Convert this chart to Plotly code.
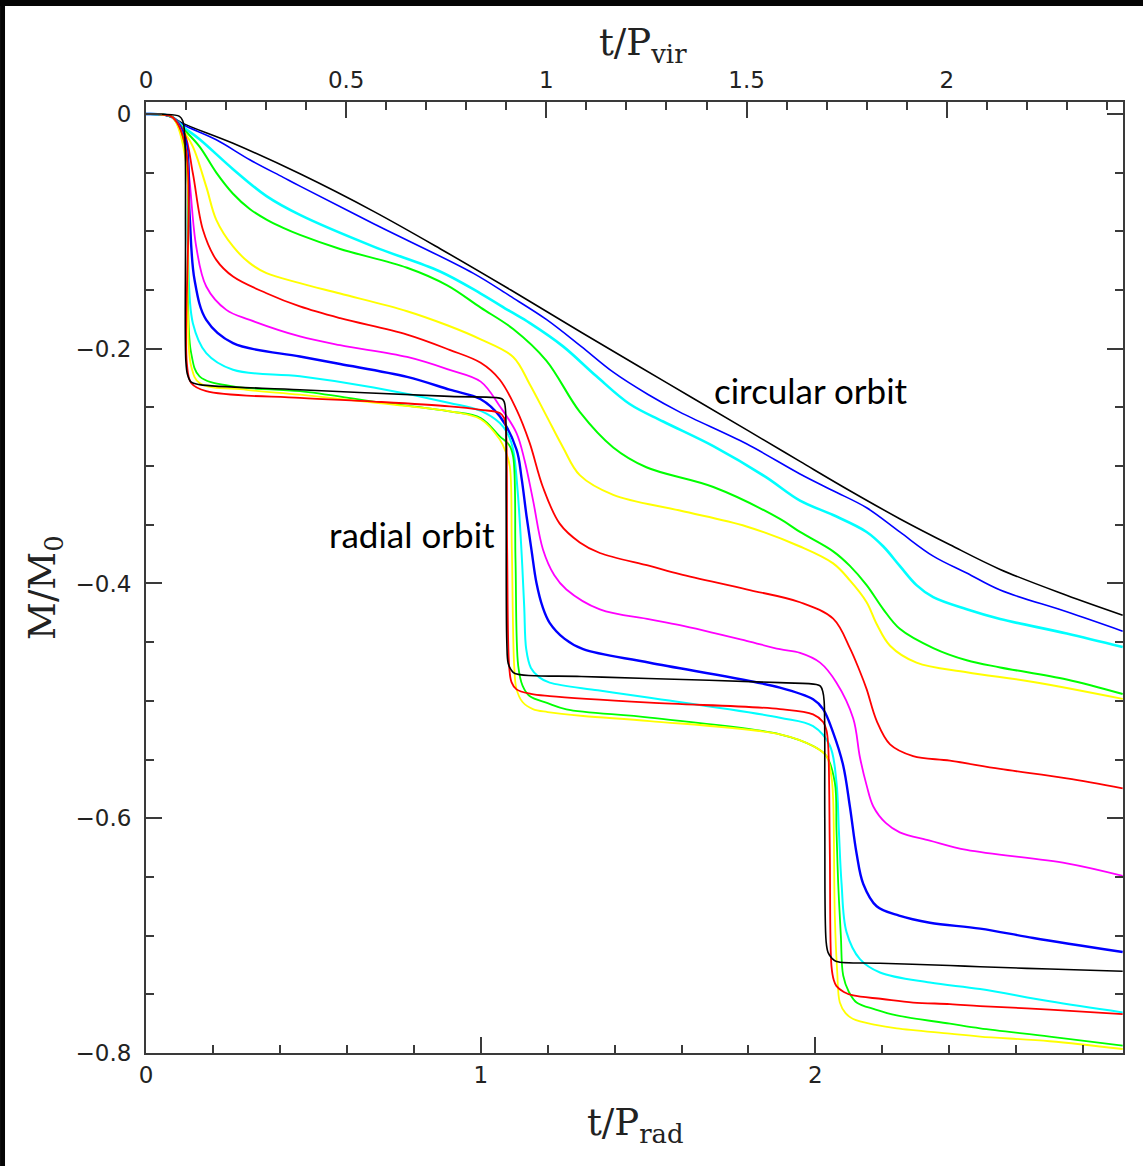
import plotly.graph_objects as go

# Bound mass fraction M/M0 versus time t/P_rad for a sequence of orbits,
# from the circular orbit (1) to the radial orbit (13).

t_1 = [0, 0.05, 0.08, 0.11, 0.26, 0.46, 0.68, 0.88, 1.09, 1.3, 1.55, 1.8, 1.954, 2.103, 2.253, 2.402, 2.552, 2.75, 2.918]
m_1 = [0, -0.0005, -0.003, -0.008, -0.025, -0.051, -0.083, -0.115, -0.150, -0.186, -0.228, -0.270, -0.296, -0.321, -0.345, -0.367, -0.388, -0.410, -0.427]

t_2 = [0, 0.05, 0.08, 0.11, 0.21, 0.31, 0.41, 0.46, 0.68, 0.977, 1.087, 1.196, 1.30, 1.396, 1.5, 1.595, 1.794, 1.954, 2.053, 2.153, 2.252, 2.352, 2.452, 2.552, 2.751, 2.918]
m_2 = [0, -0.0005, -0.003, -0.009, -0.022, -0.039, -0.054, -0.0615, -0.0935, -0.1356, -0.155, -0.175, -0.198, -0.220, -0.239, -0.254, -0.281, -0.3067, -0.321, -0.3355, -0.3561, -0.3767, -0.3911, -0.4056, -0.4241, -0.4406]

t_3 = [0, 0.05, 0.08, 0.11, 0.16, 0.26, 0.36, 0.46, 0.68, 0.877, 1.0, 1.087, 1.146, 1.246, 1.346, 1.445, 1.545, 1.695, 1.85, 1.954, 2.053, 2.153, 2.203, 2.252, 2.302, 2.352, 2.452, 2.552, 2.751, 2.918]
m_3 = [0, -0.0005, -0.003, -0.0108, -0.0215, -0.047, -0.070, -0.086, -0.113, -0.134, -0.153, -0.168, -0.178, -0.198, -0.2235, -0.2471, -0.262, -0.283, -0.309, -0.3294, -0.3417, -0.3561, -0.3685, -0.385, -0.4014, -0.4117, -0.422, -0.4303, -0.4426, -0.4542]

t_4 = [0, 0.05, 0.08, 0.11, 0.16, 0.21, 0.26, 0.31, 0.36, 0.41, 0.46, 0.58, 0.78, 0.9, 1.0, 1.097, 1.196, 1.296, 1.396, 1.495, 1.695, 1.894, 1.954, 2.053, 2.103, 2.153, 2.203, 2.252, 2.352, 2.452, 2.552, 2.751, 2.918]
m_4 = [0, -0.0005, -0.003, -0.0122, -0.0278, -0.050, -0.068, -0.081, -0.090, -0.097, -0.103, -0.115, -0.131, -0.146, -0.165, -0.1832, -0.2101, -0.2538, -0.2841, -0.301, -0.3178, -0.345, -0.3561, -0.3726, -0.385, -0.4014, -0.422, -0.4386, -0.455, -0.4654, -0.4715, -0.4818, -0.4942]

t_5 = [0, 0.05, 0.08, 0.11, 0.14, 0.18, 0.21, 0.26, 0.31, 0.36, 0.46, 0.58, 0.78, 0.9, 1.0, 1.097, 1.146, 1.196, 1.246, 1.296, 1.396, 1.595, 1.794, 1.954, 2.053, 2.103, 2.153, 2.183, 2.223, 2.302, 2.452, 2.651, 2.918]
m_5 = [0, -0.0005, -0.003, -0.0136, -0.0278, -0.0619, -0.0902, -0.1129, -0.1271, -0.1356, -0.1441, -0.153, -0.168, -0.18, -0.192, -0.207, -0.23, -0.257, -0.2841, -0.3077, -0.3245, -0.3379, -0.3514, -0.3685, -0.3829, -0.3973, -0.4159, -0.4345, -0.453, -0.4674, -0.4756, -0.4839, -0.4983]

t_6 = [0, 0.05, 0.08, 0.115, 0.14, 0.17, 0.21, 0.26, 0.36, 0.46, 0.58, 0.78, 0.907, 1.0, 1.057, 1.107, 1.146, 1.186, 1.236, 1.296, 1.356, 1.505, 1.595, 1.794, 1.954, 2.053, 2.103, 2.133, 2.153, 2.183, 2.223, 2.292, 2.402, 2.552, 2.751, 2.918]
m_6 = [0, -0.0005, -0.003, -0.0165, -0.0505, -0.0987, -0.1243, -0.1385, -0.1527, -0.164, -0.174, -0.188, -0.201, -0.212, -0.2264, -0.2519, -0.28, -0.318, -0.349, -0.365, -0.374, -0.385, -0.392, -0.405, -0.416, -0.430, -0.455, -0.475, -0.490, -0.517, -0.537, -0.547, -0.551, -0.558, -0.566, -0.5745]

t_7 = [0, 0.05, 0.08, 0.115, 0.13, 0.15, 0.18, 0.24, 0.31, 0.46, 0.58, 0.78, 0.907, 1.0, 1.057, 1.107, 1.131, 1.156, 1.186, 1.22, 1.256, 1.356, 1.505, 1.595, 1.794, 1.894, 1.954, 2.014, 2.063, 2.113, 2.133, 2.153, 2.173, 2.21, 2.252, 2.342, 2.452, 2.751, 2.918]
m_7 = [0, -0.0005, -0.003, -0.0193, -0.0562, -0.1129, -0.147, -0.1669, -0.1754, -0.1895, -0.197, -0.207, -0.218, -0.228, -0.249, -0.2718, -0.295, -0.3285, -0.371, -0.393, -0.4051, -0.4221, -0.4306, -0.4355, -0.4489, -0.456, -0.4591, -0.4674, -0.4845, -0.515, -0.548, -0.572, -0.590, -0.604, -0.612, -0.619, -0.627, -0.6384, -0.6491]

t_8 = [0, 0.05, 0.08, 0.118, 0.13, 0.145, 0.18, 0.26, 0.46, 0.58, 0.78, 0.907, 1.0, 1.057, 1.107, 1.122, 1.137, 1.152, 1.1665, 1.185, 1.206, 1.25, 1.306, 1.505, 1.894, 1.993, 2.023, 2.053, 2.083, 2.103, 2.123, 2.143, 2.183, 2.25, 2.342, 2.492, 2.651, 2.918]
m_8 = [0, -0.0005, -0.003, -0.0221, -0.0845, -0.1413, -0.1754, -0.1952, -0.2066, -0.213, -0.224, -0.2349, -0.243, -0.2576, -0.286, -0.31, -0.3427, -0.372, -0.3994, -0.42, -0.4335, -0.447, -0.456, -0.4675, -0.4887, -0.4987, -0.507, -0.527, -0.555, -0.590, -0.630, -0.656, -0.675, -0.683, -0.689, -0.694, -0.702, -0.714]

t_9 = [0, 0.05, 0.08, 0.118, 0.125, 0.14, 0.18, 0.26, 0.46, 0.68, 0.907, 1.0, 1.057, 1.08, 1.097, 1.11, 1.1216, 1.13, 1.136, 1.15, 1.175, 1.206, 1.35, 1.505, 1.894, 1.993, 2.043, 2.063, 2.07, 2.078, 2.093, 2.133, 2.193, 2.342, 2.492, 2.7, 2.918]
m_9 = [0, -0.0005, -0.003, -0.0278, -0.1129, -0.1782, -0.2037, -0.2179, -0.2235, -0.233, -0.2462, -0.253, -0.2633, -0.272, -0.286, -0.32, -0.371, -0.42, -0.456, -0.472, -0.48, -0.4845, -0.491, -0.4973, -0.5143, -0.5215, -0.538, -0.5696, -0.61, -0.655, -0.697, -0.720, -0.7314, -0.740, -0.7455, -0.756, -0.7654]

t_10 = [0, 0.05, 0.08, 0.118, 0.125, 0.135, 0.16, 0.26, 0.46, 0.68, 0.907, 1.0, 1.057, 1.085, 1.097, 1.104, 1.112, 1.125, 1.146, 1.2, 1.256, 1.505, 1.894, 1.993, 2.033, 2.058, 2.063, 2.068, 2.076, 2.083, 2.1, 2.123, 2.18, 2.243, 2.402, 2.492, 2.7, 2.918]
m_10 = [0, -0.0005, -0.003, -0.0335, -0.1555, -0.2037, -0.2235, -0.232, -0.2362, -0.245, -0.2533, -0.259, -0.2746, -0.282, -0.292, -0.38, -0.47, -0.487, -0.4959, -0.502, -0.5072, -0.5143, -0.5285, -0.5385, -0.547, -0.5696, -0.61, -0.655, -0.70, -0.734, -0.748, -0.757, -0.763, -0.768, -0.775, -0.779, -0.786, -0.7938]

t_11 = [0, 0.05, 0.08, 0.12, 0.125, 0.135, 0.16, 0.3, 0.46, 0.68, 0.907, 1.0, 1.057, 1.075, 1.087, 1.093, 1.1, 1.107, 1.125, 1.156, 1.2, 1.306, 1.505, 1.894, 1.993, 2.033, 2.048, 2.053, 2.058, 2.065, 2.073, 2.09, 2.113, 2.18, 2.243, 2.402, 2.492, 2.7, 2.918]
m_11 = [0, -0.0005, -0.003, -0.042, -0.1697, -0.215, -0.2292, -0.235, -0.2391, -0.246, -0.2533, -0.26, -0.2774, -0.288, -0.3002, -0.37, -0.47, -0.49, -0.501, -0.507, -0.5095, -0.5129, -0.5172, -0.5285, -0.5385, -0.547, -0.565, -0.584, -0.683, -0.73, -0.757, -0.766, -0.771, -0.776, -0.779, -0.7835, -0.786, -0.79, -0.7966]

t_12 = [0, 0.05, 0.08, 0.118, 0.122, 0.135, 0.18, 0.46, 0.68, 0.907, 1.0, 1.057, 1.07, 1.075, 1.079, 1.085, 1.092, 1.107, 1.15, 1.206, 1.505, 1.894, 1.993, 2.023, 2.033, 2.038, 2.043, 2.048, 2.055, 2.063, 2.085, 2.113, 2.2, 2.292, 2.402, 2.492, 2.7, 2.918]
m_12 = [0, -0.0005, -0.003, -0.0278, -0.2122, -0.2292, -0.2362, -0.2419, -0.245, -0.2491, -0.252, -0.2548, -0.259, -0.2661, -0.371, -0.4704, -0.484, -0.4902, -0.494, -0.4959, -0.5015, -0.507, -0.5115, -0.518, -0.525, -0.537, -0.627, -0.726, -0.738, -0.743, -0.748, -0.751, -0.754, -0.757, -0.7583, -0.760, -0.763, -0.7668]

t_13 = [0, 0.05, 0.1, 0.11, 0.116, 0.118, 0.119, 0.124, 0.135, 0.16, 0.46, 0.907, 1.04, 1.063, 1.07, 1.074, 1.076, 1.078, 1.082, 1.09, 1.102, 1.3, 1.5, 1.894, 2.003, 2.015, 2.022, 2.026, 2.028, 2.032, 2.038, 2.05, 2.063, 2.193, 2.402, 2.492, 2.7, 2.918]
m_13 = [0, -0.0003, -0.002, -0.006, -0.02, -0.1, -0.21, -0.222, -0.2285, -0.2306, -0.2349, -0.2406, -0.2415, -0.2426, -0.245, -0.2519, -0.3285, -0.45, -0.468, -0.4732, -0.4766, -0.4792, -0.4809, -0.4845, -0.486, -0.4875, -0.492, -0.50, -0.60, -0.705, -0.7145, -0.7195, -0.722, -0.7235, -0.7255, -0.7265, -0.7285, -0.7304]

times = [t_1, t_2, t_3, t_4, t_5, t_6, t_7, t_8, t_9, t_10, t_11, t_12, t_13]
masses = [m_1, m_2, m_3, m_4, m_5, m_6, m_7, m_8, m_9, m_10, m_11, m_12, m_13]

# ratio of the two time units: t/P_vir = t/P_rad * PRAD_OVER_PVIR
PRAD_OVER_PVIR = 0.836
T_MAX = 2.919

line_colors = ["#000000", "#0000ff", "#00ffff", "#00ff00", "#ffff00", "#ff0000", "#ff00ff",
               "#0000ff", "#00ffff", "#00ff00", "#ffff00", "#ff0000", "#000000"]
line_widths = [1.6, 1.6, 2.6, 2.0, 2.0, 1.8, 1.8, 2.4, 2.0, 1.8, 1.8, 1.8, 1.6]

fig = go.Figure()
for t, m, c, w in zip(times, masses, line_colors, line_widths):
    fig.add_trace(go.Scatter(x=t, y=m, mode="lines",
                             line=dict(color=c, width=w, shape="spline", smoothing=1.0),
                             hoverinfo="skip", showlegend=False))

# companion trace on the upper time axis (t/P_vir), drawn transparent
fig.add_trace(go.Scatter(x=[v * PRAD_OVER_PVIR for v in t_1], y=m_1, xaxis="x2", mode="lines",
                         line=dict(color="rgba(0,0,0,0)"), hoverinfo="skip", showlegend=False))

AX = "#3a3a3a"
tick_font = dict(family="DejaVu Sans", size=23, color="#222222")

fig.update_layout(
    width=1143, height=1166,
    margin=dict(l=146, r=20, t=102, b=113),
    paper_bgcolor="white", plot_bgcolor="white",
    xaxis=dict(range=[0, T_MAX], showgrid=False, zeroline=False,
               showline=True, linecolor=AX, linewidth=2, mirror=True,
               ticks="inside", ticklen=16, tickwidth=1.5, tickcolor=AX,
               tickvals=[0, 1, 2], ticktext=["0", "1", "2"], tickfont=tick_font,
               minor=dict(dtick=0.2, tick0=0, ticks="inside", ticklen=8, tickwidth=1.5, tickcolor=AX)),
    xaxis2=dict(range=[0, T_MAX * PRAD_OVER_PVIR], overlaying="x", side="top",
                showgrid=False, zeroline=False, showline=False,
                ticks="inside", ticklen=16, tickwidth=1.5, tickcolor=AX,
                tickvals=[0, 0.5, 1, 1.5, 2], ticktext=["0", "0.5", "1", "1.5", "2"], tickfont=tick_font,
                ticklabelstandoff=8,
                minor=dict(dtick=0.1, tick0=0, ticks="inside", ticklen=8, tickwidth=1.5, tickcolor=AX)),
    yaxis=dict(range=[-0.8, 0.0102], showgrid=False, zeroline=False,
               showline=True, linecolor=AX, linewidth=2, mirror="ticks",
               ticks="inside", ticklen=16, tickwidth=1.5, tickcolor=AX,
               tickvals=[0, -0.2, -0.4, -0.6, -0.8], tickfont=tick_font, ticklabelstandoff=8,
               minor=dict(dtick=0.05, tick0=0, ticks="inside", ticklen=8, tickwidth=1.5, tickcolor=AX)),
)

title_font = dict(family="DejaVu Serif", size=37, color="#222222")
label_font = dict(family="Lato", size=35, color="#000000")

fig.add_annotation(text="t/P<sub>vir</sub>", xref="paper", yref="paper", x=0.5087, y=1.0599,
                   xanchor="center", yanchor="middle", showarrow=False, font=title_font)
fig.add_annotation(text="t/P<sub>rad</sub>", xref="paper", yref="paper", x=0.5015, y=-0.0757,
                   xanchor="center", yanchor="middle", showarrow=False, font=title_font)
fig.add_annotation(text="M/M<sub>0</sub>", xref="paper", yref="paper", x=-0.1034, y=0.49,
                   xanchor="center", yanchor="middle", textangle=-90, showarrow=False, font=title_font)

fig.add_annotation(text="circular orbit", x=1.69, y=-0.235, xanchor="left", yanchor="middle",
                   showarrow=False, font=label_font)
fig.add_annotation(text="radial orbit", x=0.54, y=-0.358, xanchor="left", yanchor="middle",
                   showarrow=False, font=label_font)

# dark frame strips along the top and left edges of the page
fig.add_shape(type="rect", xref="paper", yref="paper", x0=-0.1494, x1=-0.1443, y0=-0.1188, y1=1.1073,
              fillcolor="#050505", line=dict(width=0), layer="above")
fig.add_shape(type="rect", xref="paper", yref="paper", x0=-0.1494, x1=1.0205, y0=1.1009, y1=1.1073,
              fillcolor="#050505", line=dict(width=0), layer="above")

fig.write_html("out.html")
